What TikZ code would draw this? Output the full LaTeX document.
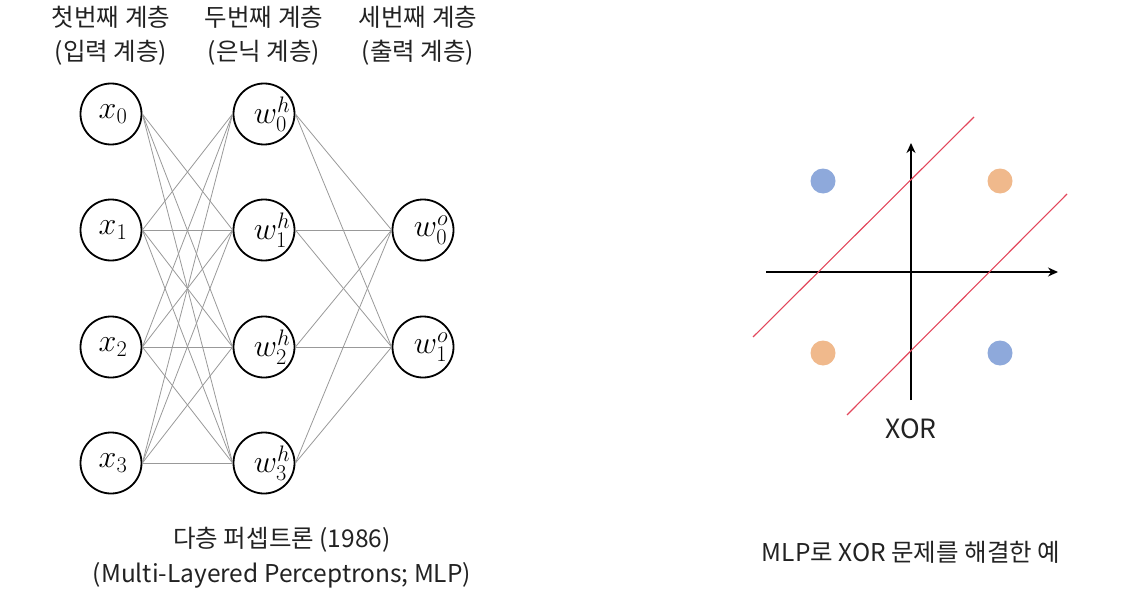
\documentclass[tikz,border=0pt]{standalone}
\usepackage{fontspec}
\usepackage{fix-cm}
\setmainfont{Noto Sans CJK KR}
\usetikzlibrary{arrows.meta}
\definecolor{txt}{HTML}{222222}
\definecolor{edge}{HTML}{999999}
\definecolor{dotblue}{HTML}{8EA9DB}
\definecolor{dotorange}{HTML}{F0B98C}
\definecolor{sep}{HTML}{E2475C}
\newcommand{\wsym}[2]{\makebox[0pt]{\hspace{16pt}$w^{#1}_{#2}$}}
\newcommand{\xsym}[1]{\makebox[0pt]{\hspace{4pt}$x_{#1}$}}
\begin{document}
\begin{tikzpicture}[x=1pt,y=-1pt,
  neuron/.style={circle,draw=black,line width=1.8pt,minimum size=61pt,inner sep=0pt,font=\fontsize{32}{34}\selectfont},
  conn/.style={draw=edge,line width=0.8pt},
  label/.style={text=txt,font=\fontsize{24.5}{28}\selectfont,align=center},
  axis/.style={draw=black,line width=1.4pt,-{Stealth[length=10pt,width=9pt]}},
  sepline/.style={draw=sep,line width=1.1pt},
  dot/.style={circle,inner sep=0pt,minimum size=25pt}]
\useasboundingbox (0,0) rectangle (1127,599);
% headers
\node[label] (h1a) at (111,17) {첫번째 계층};
\node[label] (h1b) at (111,53) {(입력 계층)};
\node[label] (h2a) at (264,17) {두번째 계층};
\node[label] (h2b) at (264,53) {(은닉 계층)};
\node[label] (h3a) at (418,17) {세번째 계층};
\node[label] (h3b) at (418,53) {(출력 계층)};
% neurons
\node[neuron] (x0) at (111,114) {\xsym{0}};
\node[neuron] (x1) at (111,230) {\xsym{1}};
\node[neuron] (x2) at (111,347) {\xsym{2}};
\node[neuron] (x3) at (111,463) {\xsym{3}};
\node[neuron] (h0) at (264,114) {\wsym{h}{0}};
\node[neuron] (h1) at (264,230) {\wsym{h}{1}};
\node[neuron] (h2) at (264,347) {\wsym{h}{2}};
\node[neuron] (h3) at (264,463) {\wsym{h}{3}};
\node[neuron] (o0) at (423,230) {\wsym{o}{0}};
\node[neuron] (o1) at (423,347) {\wsym{o}{1}};
% connections input -> hidden
\foreach \i in {0,1,2,3}{
  \foreach \j in {0,1,2,3}{
    \ifnum\i=0 \ifnum\j=0 \else
      \draw[conn] (x\i.east) -- (h\j.west);
    \fi\else
      \draw[conn] (x\i.east) -- (h\j.west);
    \fi
  }
}
% hidden -> output
\foreach \j in {0,1,2,3}{
  \foreach \k in {0,1}{
    \draw[conn] (h\j.east) -- (o\k.west);
  }
}
% captions
\node[label] (c1) at (282,540) {다층 퍼셉트론 (1986)};
\node[label] (c2) at (282,575) {(Multi-Layered Perceptrons; MLP)};
% XOR plot
\coordinate (xl) at (766,272);
\coordinate (xr) at (1058,272);
\coordinate (yb) at (911,400);
\coordinate (yt) at (911,143);
\draw[axis] (xl) -- (xr);
\draw[axis] (yb) -- (yt);
\coordinate (s1a) at (753,337);
\coordinate (s1b) at (974,117);
\coordinate (s2a) at (847,415);
\coordinate (s2b) at (1067,194);
\draw[sepline] (s1a) -- (s1b);
\draw[sepline] (s2a) -- (s2b);
\node[dot,fill=dotblue] (d1) at (823,181) {};
\node[dot,fill=dotorange] (d2) at (1000,181) {};
\node[dot,fill=dotorange] (d3) at (823,353) {};
\node[dot,fill=dotblue] (d4) at (1000,353) {};
\node[label,font=\fontsize{26.5}{30}\selectfont] (xor) at (911,429) {XOR};
\node[label] (c3) at (911,552) {MLP로 XOR 문제를 해결한 예};
\end{tikzpicture}
\end{document}
